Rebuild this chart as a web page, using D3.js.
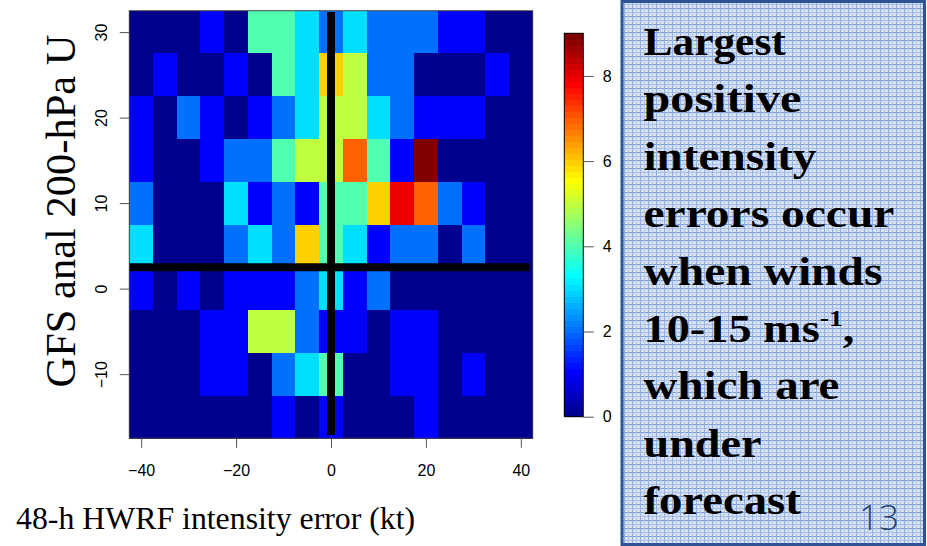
<!DOCTYPE html>
<html>
<head>
<meta charset="utf-8">
<script src="https://cdn.jsdelivr.net/npm/d3@7"></script>
<style>
  html, body { margin: 0; padding: 0; background: #fff; }
  svg { display: block; }
</style>
</head>
<body>
<svg class="chart" width="927" height="546"></svg>
<script>
// bin centres (kt on x, m/s on y) and counts per row, top row first
var xBins = [-40, -35, -30, -25, -20, -15, -10, -5, 0, 5, 10, 15, 20, 25, 30, 35, 40];
var yBins = [30, 25, 20, 15, 10, 5, 0, -5, -10, -15];
var binW = 5;
var u30  = [0,0,0,1,0,4,4,3,2,3,2,2,2,1,1,0,0];
var u25  = [0,1,0,0,1,0,4,3,6,5,2,2,0,0,0,1,0];
var u20  = [1,0,2,1,0,1,2,3,5,5,3,2,1,1,1,0,0];
var u15  = [1,0,0,1,2,2,4,5,5,7,4,1,9,0,0,0,0];
var u10  = [2,0,0,0,3,1,2,1,4,4,6,8,7,2,1,0,0];
var u5   = [3,0,0,0,2,3,2,6,4,3,1,2,2,0,2,0,0];
var u0   = [1,0,1,0,1,1,1,2,3,1,2,0,0,0,0,0,0];
var um5  = [0,0,0,1,1,5,5,2,1,1,0,1,1,0,0,0,0];
var um10 = [0,0,0,1,1,0,2,3,4,0,0,1,1,0,1,0,0];
var um15 = [0,0,0,0,0,0,1,0,1,0,0,0,1,0,0,0,0];
var countRows = [u30, u25, u20, u15, u10, u5, u0, um5, um10, um15];

var xTicks = [-40, -20, 0, 20, 40];
var yTicks = [-10, 0, 10, 20, 30];
var zTicks = [0, 2, 4, 6, 8];
var zMax = 9;

// the two black reference lines
var refLines = [
  {x1: 0, y1: -17.1, x2: 0, y2: 32.35},
  {x1: -42.5, y1: 2.5, x2: 41.8, y2: 2.5}
];

var noteLines = ['Largest', 'positive', 'intensity', 'errors occur', 'when winds',
  '10-15 ms', 'which are', 'under', 'forecast'];
var noteWidths = [143, 158, 173, 251, 239, 211, 196, 118, 158];

var chart = d3.select('.chart');

// matlab-style jet(64)
function jetU(j) {
  if (j < 0 || j > 46) return 0;
  if (j < 16) return (j + 1) / 16;
  if (j < 31) return 1;
  return (47 - j) / 16;
}
var jet = d3.range(64).map(function(i) {
  var k = i + 1;
  return d3.rgb(255 * jetU(k - 25), 255 * jetU(k - 9), 255 * jetU(k + 7)).formatHex();
});
var color = d3.scaleQuantize().domain([0, zMax]).range(jet);

var x = d3.scaleLinear().domain([-42.5, 42.5]).range([129.3, 532.7]);
var y = d3.scaleLinear().domain([-17.5, 32.5]).range([438.3, 10.7]);

// heatmap cells
var cells = [];
countRows.forEach(function(row, r) {
  row.forEach(function(v, c) {
    cells.push({x: xBins[c], y: yBins[r], v: v});
  });
});

chart.append('g')
  .attr('shape-rendering', 'crispEdges')
  .selectAll('rect')
  .data(cells)
  .enter().append('rect')
  .attr('x', d => x(d.x - binW / 2))
  .attr('y', d => y(d.y + binW / 2))
  .attr('width', d => x(d.x + binW / 2) - x(d.x - binW / 2) + 0.5)
  .attr('height', d => y(d.y - binW / 2) - y(d.y + binW / 2) + 0.5)
  .attr('fill', d => color(d.v));

chart.append('g')
  .selectAll('line')
  .data(refLines)
  .enter().append('line')
  .attr('x1', d => x(d.x1)).attr('y1', d => y(d.y1))
  .attr('x2', d => x(d.x2)).attr('y2', d => y(d.y2))
  .attr('stroke', '#000')
  .attr('stroke-width', 8);

chart.append('rect')
  .attr('x', x.range()[0]).attr('y', y.range()[1])
  .attr('width', x.range()[1] - x.range()[0])
  .attr('height', y.range()[0] - y.range()[1])
  .attr('fill', 'none').attr('stroke', '#444').attr('stroke-width', 1);

//axes
var xAxis = chart.append('g')
  .attr('transform', 'translate(0,' + y.range()[0] + ')')
  .call(d3.axisBottom(x).tickValues(xTicks).tickSize(9.5).tickPadding(12)
    .tickFormat(d => d < 0 ? '\u2212' + Math.abs(d) : d));
xAxis.select('.domain').remove();
xAxis.selectAll('line').attr('stroke', '#555');
xAxis.selectAll('text').attr('font-family', 'Liberation Sans, Arial, sans-serif')
  .attr('font-size', 16).attr('fill', '#000').attr('dy', null).attr('y', 38);

var yAxis = chart.append('g')
  .attr('transform', 'translate(' + x.range()[0] + ',0)')
  .call(d3.axisLeft(y).tickValues(yTicks).tickSize(9.5)
    .tickFormat(d => d < 0 ? '\u2212' + Math.abs(d) : d));
yAxis.select('.domain').remove();
yAxis.selectAll('line').attr('stroke', '#555');
yAxis.selectAll('text')
  .attr('font-family', 'Liberation Sans, Arial, sans-serif')
  .attr('font-size', 16).attr('fill', '#000')
  .attr('x', null).attr('dy', null)
  .attr('text-anchor', 'middle')
  .attr('transform', 'translate(-22,0) rotate(-90)');

// colour bar
var z = d3.scaleLinear().domain([0, zMax]).range([416.7, 33.3]);
var barX = 564.3, barW = 19;
chart.append('g')
  .attr('shape-rendering', 'crispEdges')
  .selectAll('rect')
  .data(jet)
  .enter().append('rect')
  .attr('x', barX)
  .attr('y', (d, i) => z((i + 1) * zMax / 64))
  .attr('width', barW)
  .attr('height', (d, i) => z(i * zMax / 64) - z((i + 1) * zMax / 64) + 0.5)
  .attr('fill', d => d);
chart.append('rect')
  .attr('x', barX).attr('y', z(zMax)).attr('width', barW)
  .attr('height', z(0) - z(zMax))
  .attr('fill', 'none').attr('stroke', '#000').attr('stroke-width', 1);
var zAxis = chart.append('g')
  .attr('transform', 'translate(' + (barX + barW) + ',0)')
  .call(d3.axisRight(z).tickValues(zTicks).tickSize(10.5).tickPadding(9));
zAxis.select('.domain').remove();
zAxis.selectAll('line').attr('stroke', '#555');
zAxis.selectAll('text').attr('font-family', 'Liberation Sans, Arial, sans-serif')
  .attr('font-size', 16).attr('fill', '#000');

// axis titles
chart.append('text')
  .attr('x', 16).attr('y', 529)
  .attr('font-family', 'Liberation Serif, Times New Roman, serif')
  .attr('font-size', 31.8)
  .text('48-h HWRF intensity error (kt)');
chart.append('text')
  .attr('transform', 'translate(75,211) rotate(-90)')
  .attr('text-anchor', 'middle')
  .attr('font-family', 'Liberation Serif, Times New Roman, serif')
  .attr('font-size', 42.5)
  .text('GFS anal 200-hPa U');

// note box with graph-paper fill
var defs = chart.append('defs');
var pat = defs.append('pattern').attr('id', 'paper')
  .attr('patternUnits', 'userSpaceOnUse').attr('width', 8).attr('height', 8);
pat.append('rect').attr('width', 8).attr('height', 8).attr('fill', '#d6e2f3');
pat.append('rect').attr('y', 0).attr('width', 8).attr('height', 1).attr('fill', '#7b9dd6');
pat.append('rect').attr('y', 4).attr('width', 8).attr('height', 1).attr('fill', '#a9c0e6');
pat.append('rect').attr('x', 0).attr('width', 1).attr('height', 8).attr('fill', '#93b0e0');
pat.append('rect').attr('x', 4).attr('width', 1).attr('height', 8).attr('fill', '#b8cbea');

chart.append('rect')
  .attr('x', 622).attr('y', 1.5).attr('width', 302.5).attr('height', 543)
  .attr('fill', 'url(#paper)')
  .attr('stroke', '#2f5496').attr('stroke-width', 3);

var note = chart.append('g');
noteLines.forEach(function(s, i) {
  var t = note.append('text')
    .attr('font-family', 'Liberation Serif, Times New Roman, serif')
    .attr('font-weight', 'bold')
    .attr('font-size', 40)
    .attr('fill', '#000')
    .text(s);
  if (s === '10-15 ms') {
    t.append('tspan').attr('font-size', 24).attr('dy', -16).text('-1');
    t.append('tspan').attr('dy', 16).text(',');
  }
  var w = t.node().getBBox().width;
  t.attr('transform', 'translate(643.5,' + (55 + 57.4 * i) + ') scale(' + (noteWidths[i] / w) + ',1)');
});

chart.append('text')
  .attr('x', 859).attr('y', 530)
  .attr('font-family', 'Open Sans, Liberation Sans, sans-serif')
  .attr('font-weight', 300)
  .attr('font-size', 35)
  .attr('fill', '#24406e')
  .text('13');
</script>
</body>
</html>
